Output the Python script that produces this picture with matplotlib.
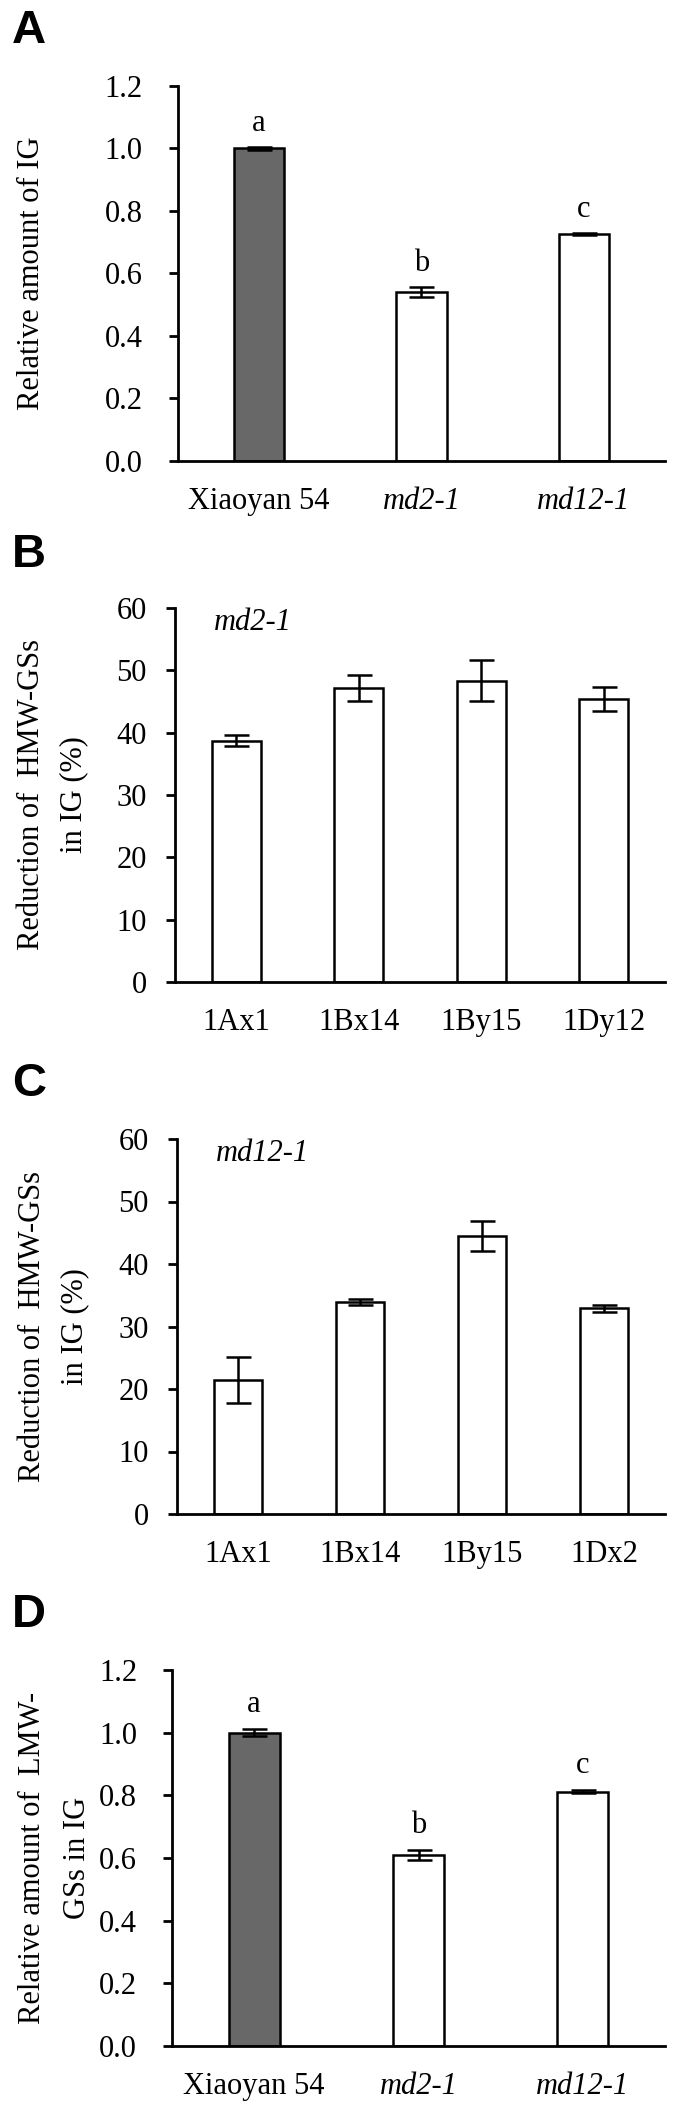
import numpy as np
import matplotlib.pyplot as plt

# ---- data ----
geno = ['Xiaoyan 54', 'md2-1', 'md12-1']
ig_mean = [1.0, 0.54, 0.725]
ig_err = [0.004, 0.015, 0.004]
ig_sig = ['a', 'b', 'c']

hmw_b = ['1Ax1', '1Bx14', '1By15', '1Dy12']
md2_red = [38.7, 47.1, 48.3, 45.4]
md2_err = [0.9, 2.1, 3.3, 2.0]

hmw_c = ['1Ax1', '1Bx14', '1By15', '1Dx2']
md12_red = [21.5, 33.9, 44.5, 32.9]
md12_err = [3.7, 0.45, 2.4, 0.6]

lmw_mean = [1.0, 0.61, 0.812]
lmw_err = [0.012, 0.016, 0.004]
lmw_sig = ['a', 'b', 'c']

plt.rcParams['font.family'] = ['Liberation Serif', 'DejaVu Serif']
FS = 22
W, H = 675, 2107

fig = plt.figure(figsize=(W / 100, H / 100), dpi=100)


def make_ax(left, right, top, bottom):
    # pixel box -> figure fraction
    return fig.add_axes([left / W, 1 - bottom / H, (right - left) / W, (bottom - top) / H])


def style(ax, ymax, step, fmt, ypad):
    for s in ['top', 'right']:
        ax.spines[s].set_visible(False)
    for s in ['left', 'bottom']:
        ax.spines[s].set_linewidth(2.0)
    ax.set_ylim(0, ymax)
    ax.set_yticks(np.arange(0, ymax + step / 2, step))
    ax.set_yticklabels([fmt % v for v in np.arange(0, ymax + step / 2, step)])
    ax.tick_params(axis='y', length=6.7, width=2.0, labelsize=FS, pad=ypad)
    ax.tick_params(axis='x', length=0, labelsize=FS, pad=19)


def bars(ax, cats, vals, errs, width, colors):
    x = np.arange(len(cats))
    ax.bar(x, vals, width=width, color=colors, edgecolor='black', linewidth=1.8, zorder=2)
    ax.errorbar(x, vals, yerr=errs, fmt='none', ecolor='black', elinewidth=1.8,
                capsize=9, capthick=1.8, zorder=3)
    ax.set_xlim(-0.5, len(cats) - 0.5)
    ax.set_xticks(x)
    ax.set_xticklabels(cats)
    return x


# ---------------- A ----------------
axA = make_ax(177.7, 665, 86, 460.5)
x = bars(axA, geno, ig_mean, ig_err, 0.31, ['#686868', 'white', 'white'])
style(axA, 1.2, 0.2, '%.1f', 18.5)
for i, t in enumerate(ig_sig):
    axA.text(x[i], ig_mean[i] + ig_err[i] + 0.052, t, ha='center', va='baseline', fontsize=FS)
for lab in axA.get_xticklabels()[1:]:
    lab.set_fontstyle('italic')
axA.text(-0.301, 0.5, 'Relative amount of IG', transform=axA.transAxes, rotation=90,
         ha='center', va='center', fontsize=FS)

# ---------------- B ----------------
axB = make_ax(175, 665, 608, 982)
bars(axB, hmw_b, md2_red, md2_err, 0.40, 'white')
style(axB, 60, 10, '%d', 13.5)
axB.text(0.08, 1.0, 'md2-1', transform=axB.transAxes, ha='left', va='top',
         fontsize=FS, fontstyle='italic')
axB.text(-0.249, 0.5, 'Reduction of  HMW-GSs\nin IG (%)', transform=axB.transAxes,
         rotation=90, ha='center', va='center', fontsize=FS, linespacing=1.6)

# ---------------- C ----------------
axC = make_ax(177, 665, 1139, 1514)
bars(axC, hmw_c, md12_red, md12_err, 0.40, 'white')
style(axC, 60, 10, '%d', 13.5)
axC.text(0.08, 1.0, 'md12-1', transform=axC.transAxes, ha='left', va='top',
         fontsize=FS, fontstyle='italic')
axC.text(-0.253, 0.5, 'Reduction of  HMW-GSs\nin IG (%)', transform=axC.transAxes,
         rotation=90, ha='center', va='center', fontsize=FS, linespacing=1.6)

# ---------------- D ----------------
axD = make_ax(172, 665, 1670, 2046)
x = bars(axD, geno, lmw_mean, lmw_err, 0.31, ['#686868', 'white', 'white'])
style(axD, 1.2, 0.2, '%.1f', 18.5)
for i, t in enumerate(lmw_sig):
    axD.text(x[i], lmw_mean[i] + lmw_err[i] + 0.055, t, ha='center', va='baseline', fontsize=FS)
for lab in axD.get_xticklabels()[1:]:
    lab.set_fontstyle('italic')
axD.text(-0.237, 0.5, 'Relative amount of  LMW-\nGSs in IG', transform=axD.transAxes,
         rotation=90, ha='center', va='center', fontsize=FS, linespacing=1.7)

# panel letters
for letter, top in zip('ABCD', [9, 533, 1062, 1593]):
    fig.text(12 / W, 1 - top / H, letter, ha='left', va='top', fontsize=34,
             fontweight='bold', family=['Liberation Sans', 'DejaVu Sans'])

fig.savefig('out.png', dpi=100)
